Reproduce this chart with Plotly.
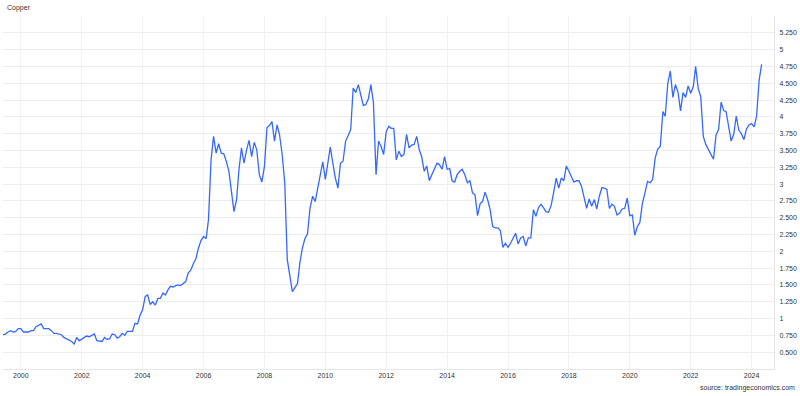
import pandas as pd
import plotly.graph_objects as go

# Monthly copper prices (USD/lb), first point June 1999
start_month = "1999-06-01"
copper_1999 = [0.76, 0.77, 0.80, 0.82, 0.80, 0.81, 0.85]
copper_2000 = [0.85, 0.80, 0.80, 0.80, 0.82, 0.82, 0.88, 0.90, 0.92, 0.85, 0.85, 0.85]
copper_2001 = [0.82, 0.78, 0.78, 0.77, 0.76, 0.72, 0.70, 0.68, 0.66, 0.62, 0.72, 0.67]
copper_2002 = [0.70, 0.72, 0.74, 0.73, 0.75, 0.77, 0.67, 0.67, 0.66, 0.72, 0.69, 0.70]
copper_2003 = [0.77, 0.76, 0.71, 0.73, 0.78, 0.75, 0.81, 0.81, 0.81, 0.93, 0.92, 1.05]
copper_2004 = [1.13, 1.33, 1.35, 1.21, 1.25, 1.20, 1.30, 1.30, 1.38, 1.35, 1.43, 1.48]
copper_2005 = [1.47, 1.49, 1.50, 1.49, 1.52, 1.55, 1.68, 1.72, 1.82, 1.89, 2.05, 2.16]
copper_2006 = [2.22, 2.19, 2.47, 3.36, 3.71, 3.46, 3.60, 3.46, 3.45, 3.34, 3.19, 2.89]
copper_2007 = [2.59, 2.77, 3.21, 3.54, 3.31, 3.51, 3.65, 3.41, 3.62, 3.51, 3.14, 3.03]
copper_2008 = [3.26, 3.84, 3.87, 3.93, 3.64, 3.88, 3.73, 3.44, 3.02, 1.88, 1.63, 1.40]
copper_2009 = [1.46, 1.52, 1.83, 2.05, 2.19, 2.26, 2.64, 2.82, 2.74, 2.94, 3.14, 3.33]
copper_2010 = [3.07, 3.33, 3.55, 3.31, 3.09, 2.94, 3.31, 3.34, 3.64, 3.72, 3.81, 4.43]
copper_2011 = [4.36, 4.48, 4.32, 4.17, 4.18, 4.27, 4.48, 4.21, 3.14, 3.64, 3.56, 3.44]
copper_2012 = [3.78, 3.86, 3.83, 3.83, 3.36, 3.49, 3.41, 3.44, 3.74, 3.54, 3.58, 3.59]
copper_2013 = [3.71, 3.51, 3.41, 3.19, 3.27, 3.05, 3.14, 3.24, 3.31, 3.29, 3.22, 3.41]
copper_2014 = [3.22, 3.23, 3.05, 3.03, 3.14, 3.19, 3.22, 3.14, 3.02, 3.05, 2.87, 2.84]
copper_2015 = [2.53, 2.71, 2.74, 2.88, 2.77, 2.62, 2.37, 2.35, 2.35, 2.31, 2.06, 2.12]
copper_2016 = [2.06, 2.12, 2.20, 2.27, 2.11, 2.20, 2.22, 2.08, 2.20, 2.20, 2.62, 2.52]
copper_2017 = [2.65, 2.70, 2.65, 2.59, 2.58, 2.68, 2.87, 3.09, 2.94, 3.09, 3.05, 3.27]
copper_2018 = [3.19, 3.11, 3.03, 3.05, 3.05, 2.97, 2.82, 2.64, 2.78, 2.67, 2.77, 2.63]
copper_2019 = [2.82, 2.95, 2.94, 2.92, 2.64, 2.70, 2.67, 2.54, 2.57, 2.63, 2.64, 2.79]
copper_2020 = [2.53, 2.54, 2.24, 2.37, 2.43, 2.72, 2.87, 3.04, 3.02, 3.07, 3.39, 3.52]
copper_2021 = [3.56, 4.08, 4.01, 4.50, 4.68, 4.29, 4.48, 4.37, 4.09, 4.36, 4.29, 4.46]
copper_2022 = [4.35, 4.45, 4.75, 4.42, 4.30, 3.71, 3.59, 3.51, 3.44, 3.37, 3.73, 3.81]
copper_2023 = [4.22, 4.09, 4.08, 3.88, 3.64, 3.74, 4.01, 3.80, 3.75, 3.66, 3.82, 3.88]
copper_2024 = [3.90, 3.85, 4.01, 4.55, 4.78]

y_tick_values = [0.5, 0.75, 1, 1.25, 1.5, 1.75, 2, 2.25, 2.5, 2.75, 3, 3.25,
                 3.5, 3.75, 4, 4.25, 4.5, 4.75, 5, 5.25]
y_tick_labels = ["0.500", "0.750", "1", "1.250", "1.500", "1.750", "2", "2.250",
                 "2.500", "2.750", "3", "3.250", "3.500", "3.750", "4", "4.250",
                 "4.500", "4.750", "5", "5.250"]

values = (copper_1999 + copper_2000 + copper_2001 + copper_2002 + copper_2003 +
          copper_2004 + copper_2005 + copper_2006 + copper_2007 + copper_2008 +
          copper_2009 + copper_2010 + copper_2011 + copper_2012 + copper_2013 +
          copper_2014 + copper_2015 + copper_2016 + copper_2017 + copper_2018 +
          copper_2019 + copper_2020 + copper_2021 + copper_2022 + copper_2023 +
          copper_2024)
dates = pd.date_range(start_month, periods=len(values), freq="MS")

FONT = "Liberation Sans, Arial, sans-serif"
TXT = "#333333"

fig = go.Figure()
fig.add_trace(go.Scatter(
    x=dates, y=values, mode="lines",
    line=dict(color="#3668ff", width=1.3),
    hoverinfo="skip", showlegend=False,
))

fig.update_layout(
    width=800, height=396,
    margin=dict(l=3, r=26, t=16, b=27, autoexpand=False),
    paper_bgcolor="white", plot_bgcolor="white",
    font=dict(family=FONT, size=7, color=TXT),
    xaxis=dict(
        type="date",
        range=["1999-06-01", "2024-09-26"],
        dtick="M24", tick0="2000-01-01", tickformat="%Y",
        showgrid=True, gridcolor="#f2f2f2", gridwidth=1,
        zeroline=False, showline=True, linecolor="#e6e6e6", linewidth=1,
        ticks="", tickfont=dict(size=7, color=TXT),
        automargin=False, fixedrange=True,
    ),
    yaxis=dict(
        side="right",
        range=[0.25, 5.5],
        tickmode="array", tickvals=y_tick_values, ticktext=y_tick_labels,
        showgrid=True, gridcolor="#ededed", gridwidth=1,
        zeroline=False, showline=True, linecolor="#e6e6e6", linewidth=1,
        ticks="", ticklabelstandoff=3, tickfont=dict(size=7, color=TXT),
        automargin=False, fixedrange=True,
    ),
    annotations=[
        dict(text="Copper", xref="paper", yref="paper", x=0.0026, y=1.024,
             xanchor="left", yanchor="middle", showarrow=False,
             font=dict(size=7, color=TXT, family=FONT)),
        dict(text="source: tradingeconomics.com", xref="paper", yref="paper",
             x=1.0298, y=-0.053, xanchor="right", yanchor="middle", showarrow=False,
             font=dict(size=7, color=TXT, family=FONT)),
    ],
)

fig.write_html(
    "out.html",
    config={"displayModeBar": False},
    post_script="document.body.style.margin='0';document.body.style.overflow='hidden';",
)
